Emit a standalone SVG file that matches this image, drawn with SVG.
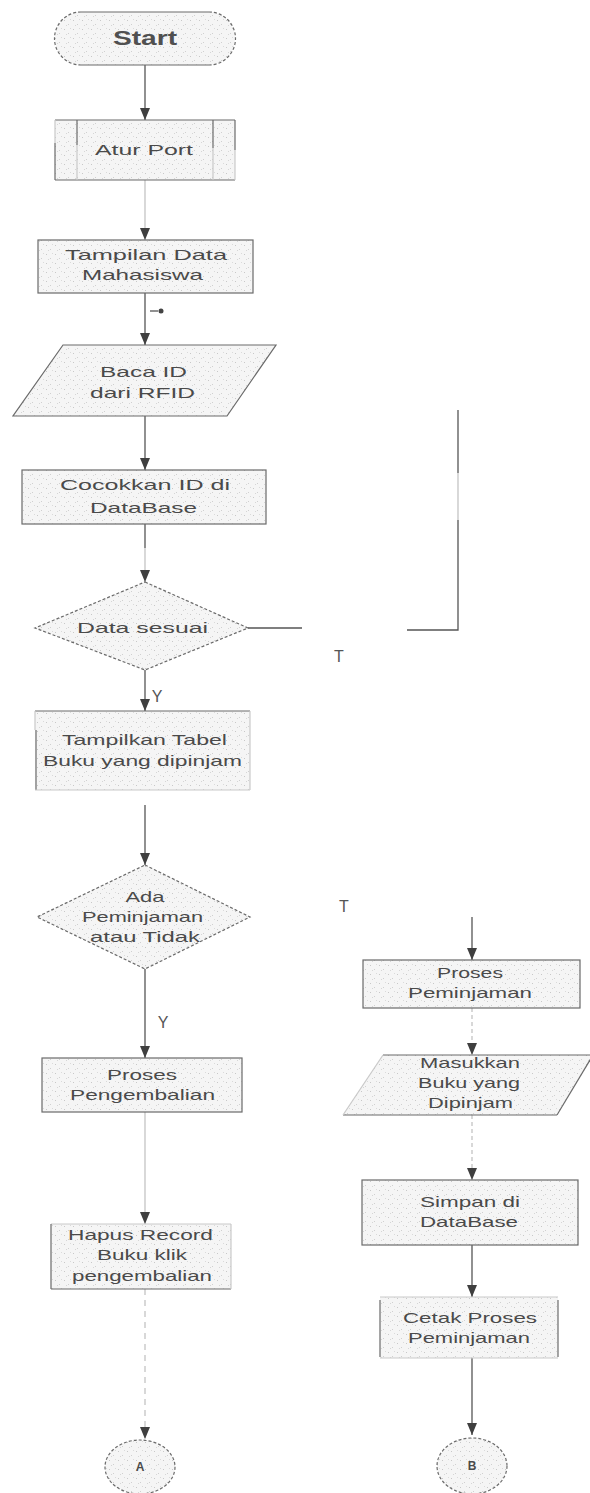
<svg xmlns="http://www.w3.org/2000/svg" width="590" height="1493" viewBox="0 0 590 1493">
  <defs>
    <marker id="arrow" markerUnits="userSpaceOnUse" viewBox="0 0 12 10" refX="12" refY="5" markerWidth="12" markerHeight="10" orient="auto">
      <polygon points="0,0 12,5 0,10" fill="#3f3f3f"/>
    </marker>
    <pattern id="speckle" patternUnits="userSpaceOnUse" width="9" height="9">
      <rect width="9" height="9" fill="#f5f5f5"/>
      <rect x="1" y="2" width="1" height="1" fill="#c8c8c8"/>
      <rect x="5" y="6" width="1" height="1" fill="#d0d0d0"/>
      <rect x="7" y="1" width="1" height="1" fill="#dadada"/>
      <rect x="3" y="7" width="1" height="1" fill="#d6d6d6"/>
    </pattern>
  </defs>
  <style>
    .shape { fill: url(#speckle); stroke: #6a6a6a; stroke-width: 1.2; }
    .dash { stroke-dasharray: 3 2; }
    .edge { fill: none; stroke: #6a6a6a; stroke-width: 1.2; }
    .faint { fill: none; stroke: #c9c9c9; stroke-width: 1.2; }
    .conn { fill: none; stroke: #555; stroke-width: 1.3; }
    .conn-light { fill: none; stroke: #c4c4c4; stroke-width: 1.3; }
    text { font-family: "Liberation Sans", Arial, sans-serif; font-size: 15px; fill: #4a4a4a; text-anchor: middle; }
    .title { font-size: 20px; font-weight: bold; fill: #505050; }
    .small { font-size: 12px; font-weight: bold; }
    .label { font-size: 16px; fill: #555; }
  </style>
  <rect width="590" height="1493" fill="#ffffff"/>

  <!-- connectors -->
  <g id="connectors">
    <line class="conn" x1="145" y1="65" x2="145" y2="120" marker-end="url(#arrow)"/>
    <line class="conn-light" x1="145" y1="180" x2="145" y2="240" marker-end="url(#arrow)"/>
    <line class="conn" x1="145" y1="293" x2="145" y2="345" marker-end="url(#arrow)"/>
    <line class="conn" x1="150" y1="311" x2="158" y2="311"/>
    <circle cx="161" cy="311" r="2.5" fill="#444"/>
    <line class="conn" x1="145" y1="416" x2="145" y2="470" marker-end="url(#arrow)"/>
    <line class="conn" x1="145" y1="524" x2="145" y2="548"/>
    <line class="conn-light" x1="145" y1="548" x2="145" y2="582" marker-end="url(#arrow)"/>
    <line class="conn" x1="145" y1="670" x2="145" y2="711" marker-end="url(#arrow)"/>
    <line class="conn" x1="145" y1="805" x2="145" y2="865" marker-end="url(#arrow)"/>
    <line class="conn" x1="145" y1="969" x2="145" y2="1058" marker-end="url(#arrow)"/>
    <line class="conn-light" x1="145" y1="1112" x2="145" y2="1224" marker-end="url(#arrow)"/>
    <line class="conn-light" x1="145" y1="1289" x2="145" y2="1439" stroke-dasharray="6 5" marker-end="url(#arrow)"/>
    <!-- "T" branch of Data sesuai -->
    <line class="conn" x1="248" y1="628" x2="302" y2="628"/>
    <polyline class="conn" points="407,630 458,630 458,520"/>
    <line class="conn-light" x1="458" y1="520" x2="458" y2="473"/>
    <line class="conn" x1="458" y1="473" x2="458" y2="410"/>
    <!-- right column -->
    <line class="conn" x1="472" y1="917" x2="472" y2="960" marker-end="url(#arrow)"/>
    <line class="conn-light" x1="472" y1="1008" x2="472" y2="1055" stroke-dasharray="4 3" marker-end="url(#arrow)"/>
    <line class="conn-light" x1="472" y1="1115" x2="472" y2="1180" stroke-dasharray="4 3" marker-end="url(#arrow)"/>
    <line class="conn" x1="472" y1="1245" x2="472" y2="1297" marker-end="url(#arrow)"/>
    <line class="conn" x1="472" y1="1358" x2="472" y2="1435" marker-end="url(#arrow)"/>
    <text class="label" x="157" y="702">Y</text>
    <text class="label" x="163" y="1028">Y</text>
    <text class="label" x="339" y="662">T</text>
    <text class="label" x="344" y="912">T</text>
  </g>

  <g id="start">
    <rect x="55" y="12" width="180" height="53" rx="26.5" fill="url(#speckle)" stroke="none"/>
    <line class="edge" x1="81" y1="12" x2="209" y2="12"/>
    <line class="edge" x1="81" y1="65" x2="209" y2="65"/>
    <path class="edge dash" d="M81,12 A26.5,26.5 0 0 0 81,65 M209,12 A26.5,26.5 0 0 1 209,65"/>
    <text class="title" x="145" y="45" textLength="64" lengthAdjust="spacingAndGlyphs">Start</text>
  </g>

  <g id="atur-port">
    <rect x="55" y="120" width="180" height="60" fill="url(#speckle)" stroke="none"/>
    <line class="edge" x1="55" y1="120" x2="235" y2="120"/>
    <line class="edge" x1="55" y1="180" x2="235" y2="180"/>
    <line class="faint" x1="55" y1="120" x2="55" y2="143"/>
    <line class="edge" x1="55" y1="143" x2="55" y2="180"/>
    <line class="edge" x1="235" y1="120" x2="235" y2="150"/>
    <line class="faint" x1="235" y1="150" x2="235" y2="180"/>
    <line class="edge" x1="77" y1="120" x2="77" y2="145"/>
    <line class="faint" x1="77" y1="145" x2="77" y2="180"/>
    <line class="edge" x1="213" y1="120" x2="213" y2="148"/>
    <line class="faint" x1="213" y1="148" x2="213" y2="180"/>
    <text x="144" y="155" textLength="98" lengthAdjust="spacingAndGlyphs">Atur Port</text>
  </g>

  <g id="tampilan-data">
    <rect class="shape" x="38" y="240" width="215" height="53"/>
    <text x="146" y="260" textLength="162" lengthAdjust="spacingAndGlyphs">Tampilan Data</text>
    <text x="142.5" y="280" textLength="121" lengthAdjust="spacingAndGlyphs">Mahasiswa</text>
  </g>

  <g id="baca-id">
    <polygon class="shape" points="63,345 276,345 227,416 13,416"/>
    <text x="143.5" y="377" textLength="87" lengthAdjust="spacingAndGlyphs">Baca ID</text>
    <text x="142.5" y="398" textLength="105" lengthAdjust="spacingAndGlyphs">dari RFID</text>
  </g>

  <g id="cocokkan">
    <rect class="shape" x="22" y="470" width="244" height="54"/>
    <text x="145" y="490" textLength="170" lengthAdjust="spacingAndGlyphs">Cocokkan ID di</text>
    <text x="143.5" y="513" textLength="107" lengthAdjust="spacingAndGlyphs">DataBase</text>
  </g>

  <g id="data-sesuai">
    <polygon class="shape dash" points="145,582 248,628 145,670 35,628"/>
    <text x="142.5" y="633" textLength="131" lengthAdjust="spacingAndGlyphs">Data sesuai</text>
  </g>

  <g id="tampilkan-tabel">
    <rect x="35" y="711" width="215" height="79" fill="url(#speckle)" stroke="none"/>
    <line class="edge" x1="35" y1="711" x2="250" y2="711"/>
    <line class="faint" x1="35" y1="711" x2="35" y2="730"/>
    <line class="edge" x1="36" y1="730" x2="36" y2="790"/>
    <line class="faint" x1="250" y1="711" x2="250" y2="790"/>
    <line class="faint" x1="35" y1="790" x2="250" y2="790"/>
    <text x="144.5" y="745" textLength="165" lengthAdjust="spacingAndGlyphs">Tampilkan Tabel</text>
    <text x="142.5" y="766" textLength="199" lengthAdjust="spacingAndGlyphs">Buku yang dipinjam</text>
  </g>

  <g id="ada-peminjaman">
    <polygon class="shape dash" points="145,865 250,917 145,969 37,917"/>
    <text x="145" y="902" textLength="39" lengthAdjust="spacingAndGlyphs">Ada</text>
    <text x="142.5" y="922" textLength="121" lengthAdjust="spacingAndGlyphs">Peminjaman</text>
    <text x="145" y="942" textLength="110" lengthAdjust="spacingAndGlyphs">atau Tidak</text>
  </g>

  <g id="proses-pengembalian">
    <rect class="shape" x="42" y="1058" width="200" height="54"/>
    <text x="142" y="1080" textLength="70" lengthAdjust="spacingAndGlyphs">Proses</text>
    <text x="142.5" y="1100" textLength="145" lengthAdjust="spacingAndGlyphs">Pengembalian</text>
  </g>

  <g id="hapus-record">
    <rect x="51" y="1224" width="180" height="65" fill="url(#speckle)" stroke="none"/>
    <line class="faint" x1="51" y1="1224" x2="231" y2="1224"/>
    <line class="edge" x1="51" y1="1224" x2="51" y2="1289"/>
    <line class="edge" x1="51" y1="1289" x2="231" y2="1289"/>
    <line class="faint" x1="231" y1="1224" x2="231" y2="1289"/>
    <text x="140.5" y="1240" textLength="145" lengthAdjust="spacingAndGlyphs">Hapus Record</text>
    <text x="142" y="1260" textLength="90" lengthAdjust="spacingAndGlyphs">Buku klik</text>
    <text x="142" y="1281" textLength="140" lengthAdjust="spacingAndGlyphs">pengembalian</text>
  </g>

  <g id="connector-a">
    <ellipse class="shape dash" cx="140" cy="1467" rx="35" ry="27"/>
    <text class="small" x="140" y="1471">A</text>
  </g>

  <g id="proses-peminjaman">
    <rect class="shape" x="363" y="960" width="217" height="48"/>
    <text x="470" y="978" textLength="66" lengthAdjust="spacingAndGlyphs">Proses</text>
    <text x="470" y="998" textLength="124" lengthAdjust="spacingAndGlyphs">Peminjaman</text>
  </g>

  <g id="masukkan-buku">
    <polygon points="383,1055 593,1055 557,1115 343,1115" fill="url(#speckle)" stroke="none"/>
    <line class="edge" x1="383" y1="1055" x2="593" y2="1055"/>
    <line class="edge" x1="343" y1="1115" x2="557" y2="1115"/>
    <line class="faint" x1="383" y1="1055" x2="343" y2="1115"/>
    <line class="edge" x1="593" y1="1055" x2="557" y2="1115"/>
    <text x="470" y="1068" textLength="100" lengthAdjust="spacingAndGlyphs">Masukkan</text>
    <text x="469" y="1088" textLength="102" lengthAdjust="spacingAndGlyphs">Buku yang</text>
    <text x="470.5" y="1108" textLength="85" lengthAdjust="spacingAndGlyphs">Dipinjam</text>
  </g>

  <g id="simpan-database">
    <rect class="shape" x="362" y="1180" width="216" height="65"/>
    <text x="470" y="1207" textLength="100" lengthAdjust="spacingAndGlyphs">Simpan di</text>
    <text x="469" y="1227" textLength="98" lengthAdjust="spacingAndGlyphs">DataBase</text>
  </g>

  <g id="cetak-proses">
    <rect x="380" y="1297" width="178" height="61" fill="url(#speckle)" stroke="none"/>
    <line class="faint" x1="380" y1="1297" x2="558" y2="1297"/>
    <line class="faint" x1="380" y1="1358" x2="558" y2="1358"/>
    <line class="edge" x1="380" y1="1300" x2="380" y2="1357"/>
    <line class="edge" x1="558" y1="1300" x2="558" y2="1357"/>
    <text x="470" y="1323" textLength="134" lengthAdjust="spacingAndGlyphs">Cetak Proses</text>
    <text x="469" y="1343" textLength="122" lengthAdjust="spacingAndGlyphs">Peminjaman</text>
  </g>

  <g id="connector-b">
    <ellipse class="shape dash" cx="472" cy="1466" rx="35" ry="28"/>
    <text class="small" x="472" y="1470">B</text>
  </g>
</svg>
